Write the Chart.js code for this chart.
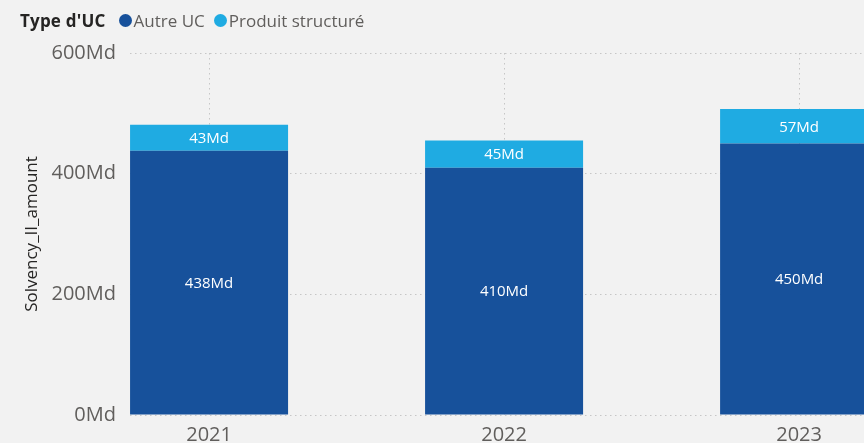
<!DOCTYPE html>
<html>
<head>
<meta charset="utf-8">
<script src="https://cdn.jsdelivr.net/npm/chart.js@4/dist/chart.umd.min.js"></script>
<style>
  html, body { margin: 0; padding: 0; background: #f2f2f2; overflow: hidden; width: 864px; height: 443px; }
  #wrap { position: relative; width: 864px; height: 460px; }
  #legend { position: absolute; left: 20px; top: 9px; display: flex; align-items: center;
            font-family: "Open Sans", sans-serif; font-size: 17px; color: #605e5c; white-space: nowrap; }
  #legend .ttl { font-weight: 700; color: #252423; margin-right: 13px; letter-spacing: 0.2px; }
  #legend .item { display: flex; align-items: center; margin-right: 9px; }
  #legend .dot { width: 13px; height: 13px; border-radius: 50%; margin-right: 2px; display: inline-block; }
  canvas { position: absolute; left: 0; top: 0; }
</style>
</head>
<body>
<div id="wrap">
  <canvas id="c" width="864" height="460"></canvas>
  <div id="legend"></div>
</div>
<script>
// Years on the horizontal axis
const years = [2021, 2022, 2023];
// Amounts per unit-linked type, in billions (Md)
const autreUC = [438, 410, 450];
const produitStructure = [43, 45, 57];
// Value axis ticks
const yTickValues = [0, 200, 400, 600];

const legendTitle = "Type d'UC";
const seriesNames = ['Autre UC', 'Produit structuré'];
const seriesColors = ['#17519b', '#1fabe2'];
const unit = 'Md';

const tickColor = '#605e5c';
const gridColor = '#c6c6c6';
const fontFamily = '"Open Sans", sans-serif';

const toPoints = arr => years.map((yr, i) => ({ x: yr, y: arr[i] }));

// Writes each segment's value in its centre
const valueLabels = {
  id: 'valueLabels',
  afterDatasetsDraw(chart) {
    const { ctx, chartArea } = chart;
    ctx.save();
    ctx.beginPath();
    ctx.rect(chartArea.left, chartArea.top, chartArea.width, chartArea.height);
    ctx.clip();
    ctx.font = '15px ' + fontFamily;
    ctx.fillStyle = '#ffffff';
    ctx.textAlign = 'center';
    ctx.textBaseline = 'middle';
    chart.data.datasets.forEach((ds, di) => {
      chart.getDatasetMeta(di).data.forEach((bar, i) => {
        const p = bar.getCenterPoint();
        ctx.fillText(ds.data[i].y + unit, p.x, p.y + 1);
      });
    });
    ctx.restore();
  }
};

const chart = new Chart(document.getElementById('c'), {
  type: 'bar',
  data: {
    datasets: [
      { label: seriesNames[0], data: toPoints(autreUC), backgroundColor: seriesColors[0], borderWidth: 0 },
      { label: seriesNames[1], data: toPoints(produitStructure), backgroundColor: seriesColors[1], borderWidth: 0 }
    ]
  },
  options: {
    responsive: false,
    animation: false,
    layout: { padding: { top: 53, left: 0, right: 0, bottom: 5 } },
    plugins: { legend: { display: false }, tooltip: { enabled: false } },
    datasets: { bar: { barPercentage: 0.5356, categoryPercentage: 1 } },
    scales: {
      x: {
        type: 'linear',
        stacked: true,
        offset: false,
        min: 2020.732,
        max: 2023.22,
        afterBuildTicks: s => { s.ticks = years.map(v => ({ value: v })); },
        ticks: { callback: v => String(v), color: tickColor, font: { family: fontFamily, size: 20 }, padding: 8, maxRotation: 0 },
        grid: { color: gridColor, drawTicks: false, lineWidth: 1, offset: false },
        border: { display: false, dash: [1.5, 3.5] }
      },
      y: {
        stacked: true,
        min: 0,
        max: 600,
        afterBuildTicks: s => { s.ticks = yTickValues.map(v => ({ value: v })); },
        afterFit: s => { s.width = 130; },
        ticks: { callback: v => v + unit, color: tickColor, font: { family: fontFamily, size: 20 }, padding: 14 },
        grid: { color: gridColor, drawTicks: false, lineWidth: 1 },
        border: { display: false, dash: [1.5, 3.5] },
        title: { display: true, text: 'Solvency_II_amount', color: '#252423',
                 font: { family: fontFamily, size: 17 }, padding: { top: 22, bottom: 0 } }
      }
    }
  },
  plugins: [valueLabels]
});

// Legend row: title followed by one dot + name per series
const legend = document.getElementById('legend');
const t = document.createElement('span');
t.className = 'ttl';
t.textContent = legendTitle;
legend.appendChild(t);
chart.data.datasets.forEach(ds => {
  const item = document.createElement('span');
  item.className = 'item';
  const dot = document.createElement('span');
  dot.className = 'dot';
  dot.style.background = ds.backgroundColor;
  const name = document.createElement('span');
  name.textContent = ds.label;
  item.appendChild(dot);
  item.appendChild(name);
  legend.appendChild(item);
});
</script>
</body>
</html>
